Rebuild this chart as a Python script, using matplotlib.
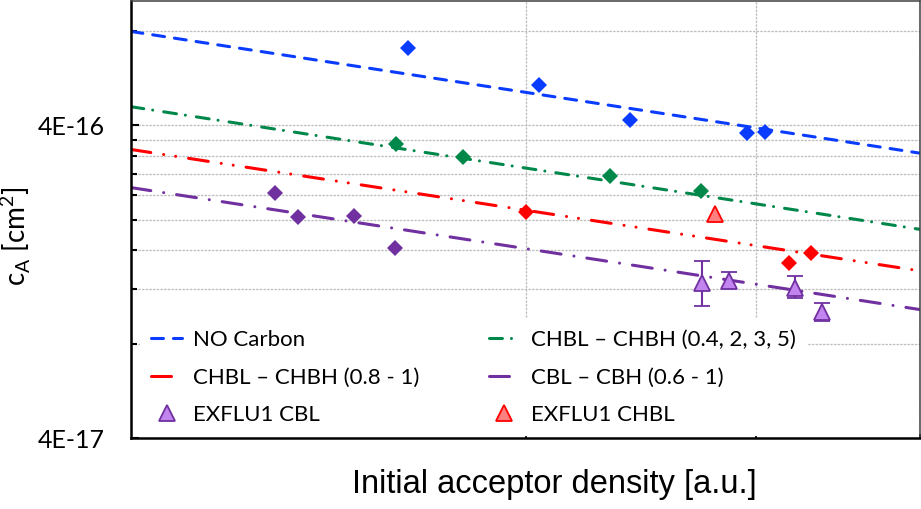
import matplotlib
matplotlib.use('Agg')
import matplotlib.pyplot as plt
from matplotlib.lines import Line2D
from matplotlib.ticker import FixedLocator, FixedFormatter, NullLocator, NullFormatter

plt.rcParams['lines.scale_dashes'] = False
plt.rcParams['lines.dash_capstyle'] = 'round'

# data (x in a.u., y in cm^2)
nocarbon_x = [1.627, 2.048, 2.403, 2.952, 3.046]
nocarbon_y = [7.05e-16, 5.37e-16, 4.15e-16, 3.77e-16, 3.80e-16]

chbl_a_x = [1.593, 1.792, 2.320, 2.722]
chbl_a_y = [3.50e-16, 3.18e-16, 2.75e-16, 2.46e-16]

chbl_b_x = [2.002, 3.178, 3.303]
chbl_b_y = [2.11e-16, 1.45e-16, 1.56e-16]

cbl_x = [1.288, 1.341, 1.480, 1.590]
cbl_y = [2.44e-16, 2.03e-16, 2.05e-16, 1.62e-16]

exflu_cbl_x = [2.727, 2.860, 3.211, 3.367]
exflu_cbl_y = [1.25e-16, 1.27e-16, 1.21e-16, 1.01e-16]
exflu_cbl_lo = [1.06e-16, 1.21e-16, 1.12e-16, 0.95e-16]
exflu_cbl_hi = [1.47e-16, 1.36e-16, 1.32e-16, 1.08e-16]

exflu_chbl_x = [2.790]
exflu_chbl_y = [2.09e-16]

# trend line end points (x = 1 and x = 4)
fit_x = [1.0, 4.0]
fit_nocarbon = [7.99e-16, 3.26e-16]
fit_chbl_a = [4.59e-16, 1.86e-16]
fit_chbl_b = [3.35e-16, 1.37e-16]
fit_cbl = [2.53e-16, 1.03e-16]

labels = ['NO Carbon', 'CHBL \u2013 CHBH (0.4, 2, 3, 5)', 'CHBL \u2013 CHBH (0.8 - 1)',
          'CBL \u2013 CBH (0.6 - 1)', 'EXFLU1 CBL', 'EXFLU1 CHBL']

BLUE = '#0A3CFF'
GREEN = '#00874A'
RED = '#FF0000'
PURPLE = '#7030A0'

# dash patterns in points (round caps add the line width to each dash)
ls_blue = (0, (8.6, 7.2))
ls_green = (0, (9.3, 6.5, 0.01, 8.0))
ls_red = (0, (14.4, 9.4, 0.01, 8.7, 0.01, 9.4))
ls_purple = (0, (14.4, 9.4, 0.01, 9.4))

fig = plt.figure(figsize=(9.21, 5.09), dpi=100)
ax = fig.add_axes([131 / 921, 1 - 438 / 509, 789 / 921, 437 / 509])
ax.set_xscale('log')
ax.set_yscale('log')
ax.set_xlim(1, 4)
ax.set_ylim(4e-17, 1e-15)

# trend lines
ax.plot(fit_x, fit_nocarbon, color=BLUE, lw=2.2, linestyle=ls_blue, zorder=2)
ax.plot(fit_x, fit_chbl_a, color=GREEN, lw=2.2, linestyle=ls_green, zorder=2)
ax.plot(fit_x, fit_chbl_b, color=RED, lw=2.2, linestyle=ls_red, zorder=2)
ax.plot(fit_x, fit_cbl, color=PURPLE, lw=2.2, linestyle=ls_purple, zorder=2)

# simulated points
ax.plot(nocarbon_x, nocarbon_y, 'D', color=BLUE, ms=8, mew=0, zorder=4)
ax.plot(chbl_a_x, chbl_a_y, 'D', color=GREEN, ms=8, mew=0, zorder=4)
ax.plot(chbl_b_x, chbl_b_y, 'D', color=RED, ms=8, mew=0, zorder=4)
ax.plot(cbl_x, cbl_y, 'D', color=PURPLE, ms=8, mew=0, zorder=4)

# experiments
err = [[y - lo for y, lo in zip(exflu_cbl_y, exflu_cbl_lo)],
       [hi - y for y, hi in zip(exflu_cbl_y, exflu_cbl_hi)]]
ax.errorbar(exflu_cbl_x, exflu_cbl_y, yerr=err, fmt='^', ms=11, mfc='#C285F0',
            mec=PURPLE, mew=1.3, ecolor=PURPLE, elinewidth=1.5, capsize=5.5,
            capthick=1.5, zorder=5)
ax.plot(exflu_chbl_x, exflu_chbl_y, '^', ms=11, mfc='#FF8080', mec=RED, mew=1.3, zorder=5)

# axes
ax.xaxis.set_major_locator(FixedLocator([2, 3, 4]))
ax.xaxis.set_major_formatter(NullFormatter())
ax.xaxis.set_minor_locator(NullLocator())
ax.yaxis.set_major_locator(FixedLocator([4e-17, 4e-16]))
ax.yaxis.set_major_formatter(FixedFormatter(['4E-17', '4E-16']))
ax.yaxis.set_minor_locator(FixedLocator([4e-17 * k for k in range(2, 10)] + [8e-16]))
ax.yaxis.set_minor_formatter(NullFormatter())

ax.tick_params(axis='y', which='major', direction='in', length=6, width=1.5, pad=19,
               labelsize=18)
ax.tick_params(axis='y', which='minor', direction='in', length=4.5, width=1.5)
ax.tick_params(axis='x', which='major', direction='in', length=3, width=1.2)
for lab in ax.get_yticklabels():
    lab.set_family('Lato')

ax.grid(True, axis='y', which='both', color='#BFBFBF', linestyle=':', linewidth=1.0, zorder=0)
ax.grid(True, axis='x', which='major', color='#BFBFBF', linestyle=':', linewidth=1.0, zorder=0)
ax.set_axisbelow(True)

ax.spines['left'].set_linewidth(1.8)
ax.spines['bottom'].set_linewidth(1.8)
ax.spines['top'].set_linewidth(1.1)
ax.spines['right'].set_linewidth(1.1)
ax.spines['top'].set_color('#404040')
ax.spines['right'].set_color('#404040')

ax.set_ylabel(r'c$_\mathregular{A}$ [cm$^\mathregular{2}$]', family='Lato', fontsize=20)
ax.yaxis.set_label_coords(-0.124, 0.462)
ax.set_xlabel('Initial acceptor density [a.u.]', family='Liberation Sans', fontsize=23.5)
ax.xaxis.set_label_coords(0.537, -0.07)

# legend
h_blue = Line2D([], [], color=BLUE, lw=2.2, linestyle=ls_blue)
h_green = Line2D([], [], color=GREEN, lw=2.2, linestyle=ls_green)
h_red = Line2D([], [], color=RED, lw=2.2, linestyle=ls_red)
h_purple = Line2D([], [], color=PURPLE, lw=2.2, linestyle=ls_purple)
h_tri_p = Line2D([], [], linestyle='none', marker='^', ms=11, mfc='#C285F0', mec=PURPLE, mew=1.3)
h_tri_r = Line2D([], [], linestyle='none', marker='^', ms=11, mfc='#FF8080', mec=RED, mew=1.3)
handles = [h_blue, h_red, h_tri_p, h_green, h_purple, h_tri_r]
labs = [labels[0], labels[2], labels[4], labels[1], labels[3], labels[5]]
leg = ax.legend(handles, labs, ncol=2, loc='lower left', bbox_to_anchor=(0.0114, 0.004),
                borderaxespad=0, prop={'family': 'Lato', 'size': 16},
                handlelength=1.4, handletextpad=0.5, columnspacing=3.1,
                labelspacing=0.8, borderpad=0.5, frameon=True, fancybox=False)
leg.get_frame().set_facecolor('white')
leg.get_frame().set_edgecolor('none')
leg.get_frame().set_alpha(1)

fig.savefig('out.png', dpi=100)
